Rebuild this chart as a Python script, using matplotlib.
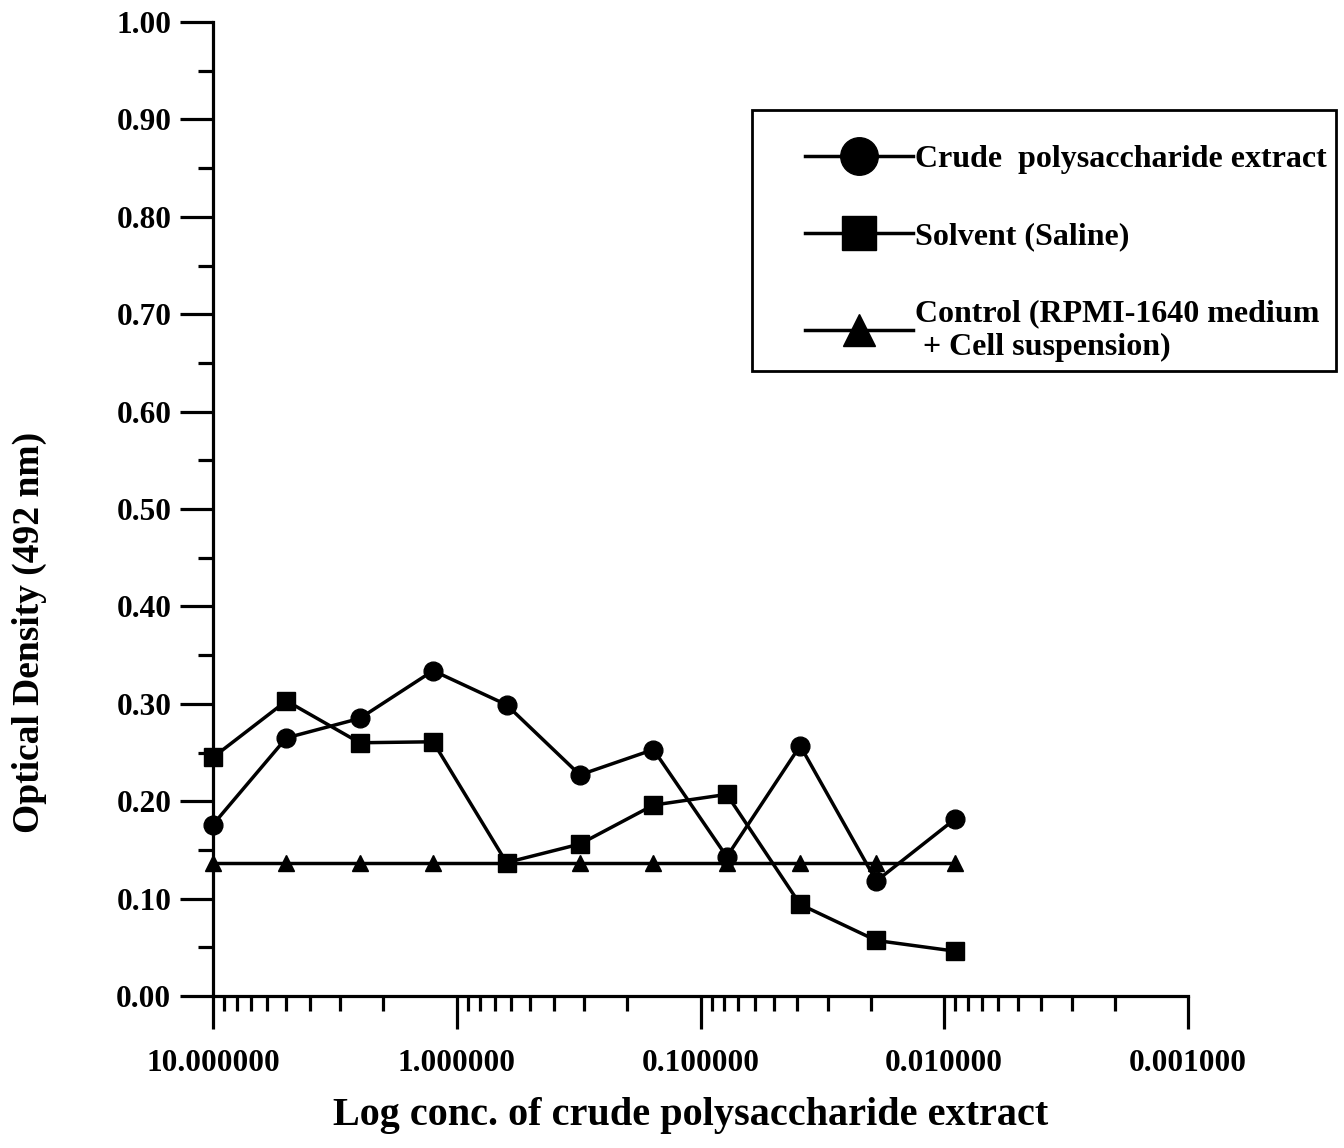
import matplotlib
matplotlib.use("Agg")
import matplotlib.pyplot as plt
from matplotlib.ticker import (FixedLocator, FuncFormatter, LogLocator,
                               MultipleLocator, NullFormatter)
from matplotlib.lines import Line2D
from matplotlib.legend_handler import HandlerLine2D

plt.rcParams['font.family'] = ['Liberation Serif', 'DejaVu Serif']
plt.rcParams['font.weight'] = 'bold'

# concentrations (two-fold dilution series)
conc = [10.0, 5.0, 2.5, 1.25, 0.625, 0.3125, 0.156, 0.078, 0.039, 0.019, 0.009]

crude = [0.176, 0.265, 0.285, 0.334, 0.299, 0.227, 0.253, 0.143, 0.257, 0.118, 0.182]
solvent = [0.245, 0.303, 0.260, 0.261, 0.137, 0.156, 0.196, 0.207, 0.094, 0.057, 0.046]
control = [0.137] * 11

labels = ["Crude  polysaccharide extract",
          "Solvent (Saline)",
          "Control (RPMI-1640 medium\n + Cell suspension)"]

x_major = [10, 1, 0.1, 0.01, 0.001]

fig = plt.figure(figsize=(13.44, 11.48), dpi=100)
ax = fig.add_axes([213 / 1344, 1 - 996 / 1148, 975 / 1344, 974 / 1148])

lw = 2.5
l1, = ax.plot(conc, crude, color='black', lw=lw, marker='o', ms=13.5, clip_on=False, zorder=3)
l2, = ax.plot(conc, solvent, color='black', lw=lw, marker='s', ms=12.5, clip_on=False, zorder=3)
l3, = ax.plot(conc, control, color='black', lw=lw, marker='^', ms=11.5, clip_on=False, zorder=3)

ax.set_xscale('log')
ax.set_xlim(10, 0.001)
ax.set_ylim(0, 1.0)

ax.xaxis.set_major_locator(FixedLocator(x_major))
ax.xaxis.set_major_formatter(FuncFormatter(lambda v, p: "%.6f" % v))
ax.xaxis.set_minor_locator(LogLocator(base=10, subs=range(2, 10)))
ax.xaxis.set_minor_formatter(NullFormatter())

ax.yaxis.set_major_locator(MultipleLocator(0.1))
ax.yaxis.set_minor_locator(MultipleLocator(0.05))
ax.yaxis.set_major_formatter(FuncFormatter(lambda v, p: "%.2f" % v))

for side in ['top', 'right']:
    ax.spines[side].set_visible(False)
for side in ['left', 'bottom']:
    ax.spines[side].set_linewidth(2.3)

ax.tick_params(which='major', direction='out', length=24, width=2.3, labelsize=22.5)
ax.tick_params(which='minor', direction='out', length=11, width=2.3)
ax.tick_params(axis='x', which='major', pad=14)
ax.tick_params(axis='y', which='major', pad=6)

ax.set_xlabel("Log conc. of crude polysaccharide extract", fontsize=29, fontweight='bold', labelpad=14)
ax.xaxis.label.set_x(0.49)
ax.set_ylabel("Optical Density (492 nm)", fontsize=27, fontweight='bold')
ax.yaxis.set_label_coords(-0.170, 0.373)

leg = ax.legend([l1, l2, l3], labels, loc='upper left',
                bbox_to_anchor=(752 / 1344, 1 - 110 / 1148), bbox_transform=fig.transFigure,
                borderaxespad=0, borderpad=0.3, handlelength=4.75,
                handletextpad=0.05, labelspacing=1.5, markerscale=2,
                fancybox=False, framealpha=1, edgecolor='black',
                prop={'family': 'Liberation Serif', 'weight': 'bold', 'size': 23},
                title=" ", title_fontsize=20,
                handler_map={Line2D: HandlerLine2D(xpad=1.35)})
leg.get_frame().set_linewidth(2.0)
# blank title only serves as top padding inside the box
leg._legend_box.sep = 0

fig.savefig("out.png", dpi=100)
